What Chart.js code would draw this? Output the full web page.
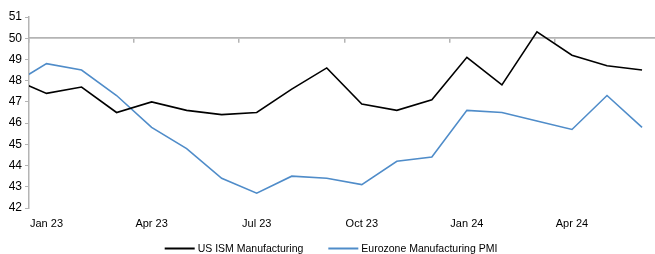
<!DOCTYPE html>
<html>
<head>
<meta charset="utf-8">
<script src="https://cdn.jsdelivr.net/npm/chart.js@4.4.1/dist/chart.umd.min.js"></script>
<style>
  html, body { margin: 0; padding: 0; background: #fff; }
  #wrap { width: 655px; height: 254px; position: relative; }
</style>
</head>
<body>
<div id="wrap"><canvas id="pmiChart"></canvas></div>
<script>
// monthly readings, Dec 22 .. Jun 24
const months = ['Dec 22', 'Jan 23', 'Feb 23', 'Mar 23', 'Apr 23', 'May 23', 'Jun 23', 'Jul 23', 'Aug 23',
  'Sep 23', 'Oct 23', 'Nov 23', 'Dec 23', 'Jan 24', 'Feb 24', 'Mar 24', 'Apr 24', 'May 24', 'Jun 24'];
const usIsm = [48.1, 47.4, 47.7, 46.5, 47.0, 46.6, 46.4, 46.5, 47.6, 48.6, 46.9, 46.6, 47.1, 49.1, 47.8, 50.3, 49.2, 48.7, 48.5];
const ezPmi = [47.8, 48.8, 48.5, 47.3, 45.8, 44.8, 43.4, 42.7, 43.5, 43.4, 43.1, 44.2, 44.4, 46.6, 46.5, 46.1, 45.7, 47.3, 45.8];
const xTickLabels = ['Jan 23', 'Apr 23', 'Jul 23', 'Oct 23', 'Jan 24', 'Apr 24'];
const yMin = 42;
const yMax = 51;

const FONT = "'Liberation Sans Narrow', 'Arial Narrow', 'Liberation Sans', Arial, sans-serif";
const AXIS_GREY = '#b4b4b4';

const toPoints = (vals) => vals.map((v, i) => ({ x: i, y: v }));
const labelIdx = xTickLabels.map((l) => months.indexOf(l));
// category boundaries every quarter, used for the tick marks on the 50 line
const quarterEdges = labelIdx.map((i) => i - 0.5).concat([labelIdx[labelIdx.length - 1] + 2.5]);

// legend drawn by hand so it can sit tight under the axis labels
const bottomLegend = {
  id: 'bottomLegend',
  afterDraw(chart) {
    const ctx = chart.ctx;
    const sets = chart.data.datasets;
    const lineLen = 30, gap = 3, itemGap = 25;
    ctx.save();
    ctx.font = '10.5px ' + FONT;
    ctx.textBaseline = 'middle';
    const widths = sets.map((d) => lineLen + gap + ctx.measureText(d.label).width);
    const total = widths.reduce((a, b) => a + b, 0) + itemGap * (sets.length - 1);
    let x = 331 - total / 2;
    const y = 248.5;
    sets.forEach((d, i) => {
      ctx.strokeStyle = d.borderColor;
      ctx.lineWidth = 2;
      ctx.beginPath();
      ctx.moveTo(x, y);
      ctx.lineTo(x + lineLen, y);
      ctx.stroke();
      ctx.fillStyle = '#000';
      ctx.fillText(d.label, x + lineLen + gap, y + 0.5);
      x += widths[i] + itemGap;
    });
    ctx.restore();
  }
};

new Chart(document.getElementById('pmiChart'), {
  type: 'line',
  data: {
    datasets: [
      {
        label: 'US ISM Manufacturing',
        data: toPoints(usIsm),
        borderColor: '#000000',
        borderWidth: 1.6,
        pointRadius: 0,
        tension: 0,
      },
      {
        label: 'Eurozone Manufacturing PMI',
        data: toPoints(ezPmi),
        borderColor: '#4f8cc9',
        borderWidth: 1.6,
        pointRadius: 0,
        tension: 0,
      },
    ],
  },
  options: {
    responsive: true,
    maintainAspectRatio: false,
    animation: false,
    events: [],
    layout: { padding: { top: 17, right: 0, left: 0, bottom: 18 } },
    plugins: {
      legend: { display: false },
      tooltip: { enabled: false },
    },
    scales: {
      x: {
        type: 'linear',
        min: 0.5,
        max: 18.37,
        afterBuildTicks: (scale) => { scale.ticks = labelIdx.map((v) => ({ value: v })); },
        afterFit: (scale) => { scale.height = 28; },
        grid: { display: false, drawTicks: false },
        border: { display: false },
        ticks: {
          autoSkip: false,
          maxRotation: 0,
          padding: 9,
          color: '#000',
          font: { family: FONT, size: 11 },
          callback: (v) => months[v],
        },
      },
      xMid: {
        type: 'linear',
        axis: 'x',
        position: { y: 50 },
        min: 0.5,
        max: 18.37,
        afterBuildTicks: (scale) => { scale.ticks = quarterEdges.map((v) => ({ value: v })); },
        grid: { drawOnChartArea: false, drawTicks: true, tickLength: 4, color: AXIS_GREY, lineWidth: 1.5 },
        border: { display: true, color: AXIS_GREY, width: 1.8 },
        ticks: { display: false },
      },
      y: {
        min: yMin,
        max: yMax,
        afterFit: (scale) => { scale.width = 29; },
        grid: { drawOnChartArea: false, drawTicks: true, tickLength: 4, color: AXIS_GREY },
        border: { display: true, color: AXIS_GREY, width: 1.5 },
        ticks: {
          stepSize: 1,
          padding: 3,
          color: '#000',
          font: { family: FONT, size: 12 },
        },
      },
    },
  },
  plugins: [bottomLegend],
});
</script>
</body>
</html>
